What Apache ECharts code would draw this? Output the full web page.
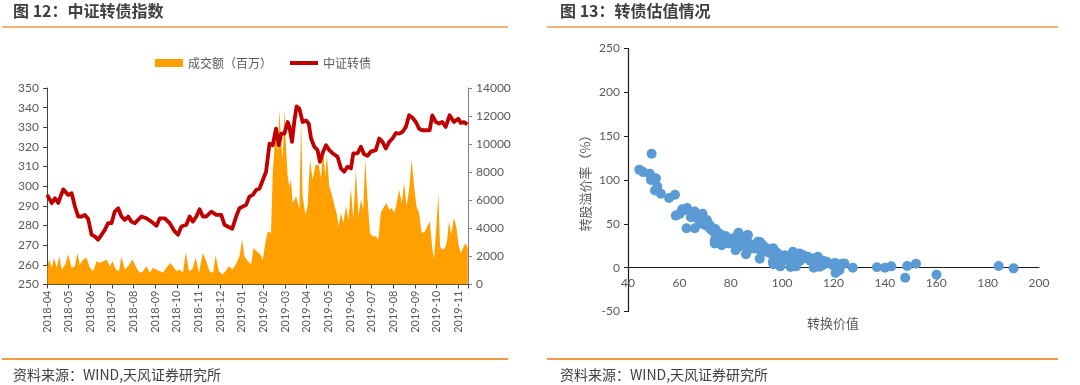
<!DOCTYPE html>
<html><head><meta charset="utf-8">
<script src="https://cdn.jsdelivr.net/npm/echarts@6/dist/echarts.min.js"></script>
<style>html,body{margin:0;padding:0;background:#fff}#c{width:1080px;height:385px}</style>
</head><body><div id="c"></div>
<script>
// ---- Figure 12 data ----
const monthLabels = ['2018-04','2018-05','2018-06','2018-07','2018-08','2018-09','2018-10','2018-11','2018-12','2019-01','2019-02','2019-03','2019-04','2019-05','2019-06','2019-07','2019-08','2019-09','2019-10','2019-11'];
// month offset since 2018-04-01
const indexMonths = [0.01,0.22,0.37,0.52,0.75,0.98,1.14,1.29,1.44,1.60,1.75,1.90,2.06,2.21,2.36,2.52,2.67,2.82,2.98,3.13,3.29,3.44,3.59,3.75,3.90,4.06,4.21,4.36,4.59,4.82,5.06,5.21,5.44,5.67,5.90,6.05,6.21,6.44,6.59,6.74,6.90,7.05,7.20,7.36,7.59,7.82,8.05,8.20,8.35,8.56,8.74,8.89,9.20,9.35,9.51,9.66,9.82,9.97,10.12,10.28,10.43,10.58,10.71,10.82,10.97,11.12,11.20,11.32,11.43,11.53,11.66,11.81,11.97,12.09,12.20,12.35,12.50,12.61,12.73,12.89,13.04,13.19,13.42,13.58,13.73,13.88,14.04,14.15,14.35,14.50,14.65,14.81,14.96,15.19,15.35,15.50,15.65,15.81,15.96,16.12,16.27,16.42,16.58,16.73,16.88,17.04,17.19,17.34,17.50,17.68,17.80,17.96,18.11,18.26,18.42,18.60,18.80,19.00,19.11,19.26,19.42];
const indexValues = [295.6,291.4,293.9,291.5,298.4,295.6,296.4,289.7,284.6,284.6,285.4,283.5,275.3,274.5,272.8,275.3,277.8,281.2,281.2,287.1,288.8,284.6,282.9,284.6,282.0,281.2,282.9,284.6,283.7,282.0,279.9,283.7,283.7,281.2,277.0,275.3,279.5,280.4,284.6,282.0,284.6,288.3,284.6,284.6,287.1,285.4,285.4,280.4,279.5,278.4,284.6,288.8,290.5,294.7,295.6,298.1,298.9,303.2,307.4,321.7,320.9,329.3,320.9,326.8,326.8,332.7,330.2,322.6,333.5,340.6,339.4,332.7,333.5,331.9,324.3,320.1,318.4,312.4,316.8,320.9,318.4,316.8,315.1,309.1,307.4,309.9,309.1,316.7,316.8,320.1,316.3,315.5,317.6,318.4,324.3,322.6,319.2,322.6,324.3,327.1,326.8,327.6,330.2,336.1,335.0,332.7,329.3,328.5,328.5,328.5,336.1,332.7,331.9,332.7,330.2,336.1,332.7,334.4,332.3,332.7,331.5];
const volumeMonths = [0.02,0.11,0.22,0.32,0.45,0.57,0.68,0.83,0.98,1.14,1.29,1.40,1.52,1.67,1.83,1.98,2.14,2.29,2.44,2.60,2.75,2.90,3.03,3.18,3.33,3.44,3.59,3.75,3.95,4.13,4.29,4.44,4.59,4.75,4.90,5.05,5.21,5.36,5.51,5.70,5.82,5.98,6.13,6.28,6.41,6.56,6.71,6.87,7.02,7.20,7.36,7.51,7.67,7.79,7.94,8.10,8.25,8.40,8.56,8.71,8.89,9.02,9.12,9.28,9.43,9.54,9.69,9.85,9.97,10.09,10.20,10.35,10.43,10.51,10.58,10.66,10.74,10.81,10.89,10.97,11.04,11.12,11.20,11.27,11.35,11.51,11.66,11.74,11.81,11.94,12.04,12.15,12.27,12.40,12.55,12.66,12.76,12.86,12.93,13.04,13.16,13.27,13.38,13.47,13.58,13.69,13.81,13.93,14.04,14.15,14.27,14.39,14.50,14.61,14.70,14.81,14.92,15.04,15.19,15.31,15.42,15.58,15.68,15.81,15.93,16.04,16.14,16.27,16.39,16.50,16.61,16.73,16.85,16.96,17.07,17.19,17.31,17.47,17.57,17.68,17.80,17.88,17.99,18.08,18.16,18.26,18.39,18.49,18.57,18.67,18.80,18.91,19.00,19.11,19.22,19.34,19.44];
const volumeValues = [1300,1780,1200,1900,1200,2000,1070,1400,2130,1200,1300,2250,1400,1780,1900,1200,950,1660,1540,1660,1780,1300,1660,1070,950,2000,1070,1300,1780,1200,830,950,1300,830,1200,1070,950,830,1200,1540,1300,950,1070,830,2300,950,1070,1900,830,2250,1660,950,830,2060,950,710,950,1300,1070,1400,2000,3200,2000,1660,1400,2600,2370,2130,1780,2960,3790,3670,7940,9830,10780,9480,12440,10310,8880,12560,9830,7700,6990,7460,5800,6280,5330,11730,6280,4970,5570,8880,7460,8530,8530,7580,9590,7700,9240,6990,6390,5680,5090,4140,5090,4380,5570,4620,6870,4620,8170,4850,6040,5330,8880,6040,3670,3430,3430,3200,5090,5570,5800,5330,5450,5090,5680,6750,5800,7220,5570,6750,8880,6990,5570,5090,3670,3790,4140,4500,2600,1780,4140,6520,2720,2480,2600,3200,4500,3550,4730,4140,2960,2250,2600,2960,2600];

// ---- Figure 13 data ----
const convValue = [44.4,45.9,49.2,48.5,48.9,50.9,50.5,51.4,52.8,56,58.3,58.6,60.2,61.1,62.5,62.8,64.5,66,66.9,66,68,69,69.9,70.6,71.8,72.5,73.8,74.4,73.8,75.7,77,78.3,79.3,80.9,81.6,82.8,83.2,84.8,85.4,86.7,86.7,88.7,90.6,91.3,92.5,93.9,95.4,96.4,97.5,96.4,98.8,99.7,101,102.3,104.2,105.5,103.6,106.8,108.1,110,112,112.6,113.9,114.6,115.8,117.4,119.7,121,122.3,123,124.3,127.5,136.9,140,142.5,147.9,148.7,152.1,160.1,184.3,190.1,83,86.3,91.3,96.6,104,108,114,120.5,123.5,73.8,76.5,81.9,85.9,91.3,96.6,99.3,103.3,105.4,112.3,120.8,67,68,70,71,72,74,75,76,78,79,80,82,83,84,85,87,88,89,90,92,93,94,95,97,98,99,100,101,103,105,106,107,109,111,118,116,63];
const premiumRate = [111.8,109,130,107,100,102,88,92.7,84.3,79.4,83.1,59.4,61.4,66.7,65.9,45,57.5,64,56.4,45,50.7,61.4,48.7,54.5,45,43,39.2,35.3,31.5,31.5,35.3,31.5,27.7,33.5,27.7,37.3,23.9,31.5,25.8,37.3,20.1,23.9,29.6,20.1,25.8,18.1,16.3,22,14.3,6.7,12.4,6.7,14.3,8.6,18.1,14.3,4.8,16.3,14.3,12.4,10.5,0.9,12.4,1,2.9,6.7,2.9,4.8,-2.9,2.9,4.8,0,0.5,0,1.5,-11.5,1.9,4.6,-8,1.9,-0.8,39.7,37,29.4,21.8,15.3,14,11.5,5.3,4.6,27.5,25.6,19.8,15.3,10.3,3.8,1.5,0.8,1.5,0,-6,60,55,50,52,48,44,40,38,36,33,30,30,28,27,30,28,26,22,24,22,20,22,19,18,17,14,10,9,12,10,12,8,11,8,5,8,68];

const FONT = 'Lato, "Noto Sans CJK SC", sans-serif';
const CJK = '"Noto Sans CJK SC", sans-serif';
const labelStyle = {fontSize: 12, color: '#595959', fontFamily: FONT};

const chart = echarts.init(document.getElementById('c'), null, {renderer: 'canvas'});
chart.setOption({
  animation: false,
  backgroundColor: '#fff',
  grid: [
    {left: 47, right: 612, top: 88, bottom: 100.5},
    {left: 628, right: 41, top: 48.5, bottom: 73.5}
  ],
  legend: [
    {data: [{name: '成交额（百万）', icon: 'rect', itemStyle: {color: '#FF9F00'}}], left: 150, top: 52, itemWidth: 28, itemHeight: 8, itemGap: 4,
     textStyle: {fontSize: 12, color: '#595959', fontFamily: CJK}},
    {data: [{name: '中证转债', icon: 'rect', itemStyle: {color: '#C00000'}}], left: 285, top: 52, itemWidth: 28, itemHeight: 4, itemGap: 4,
     textStyle: {fontSize: 12, color: '#595959', fontFamily: CJK}}
  ],
  xAxis: [
    {type: 'value', gridIndex: 0, min: 0, max: 19.45, interval: 1,
     axisLine: {lineStyle: {color: '#404040', width: 1}},
     axisTick: {length: 4, lineStyle: {color: '#404040'}},
     splitLine: {show: false},
     axisLabel: {rotate: 90, fontSize: 11, color: '#595959', fontFamily: FONT, margin: 6,
       formatter: v => (Number.isInteger(v) && monthLabels[v]) ? monthLabels[v] : ''}},
    {type: 'value', gridIndex: 1, min: 40, max: 200, interval: 20,
     position: 'bottom', offset: -43.8,
     axisLine: {onZero: false, lineStyle: {color: '#1a1a1a', width: 1.2}},
     axisTick: {show: false}, splitLine: {show: false},
     axisLabel: Object.assign({margin: 9}, labelStyle)}
  ],
  yAxis: [
    {type: 'value', gridIndex: 0, position: 'left', min: 250, max: 350, interval: 10,
     axisLine: {show: true, lineStyle: {color: '#404040'}},
     axisTick: {show: true, length: 4, lineStyle: {color: '#404040'}},
     splitLine: {show: false}, axisLabel: Object.assign({margin: 8}, labelStyle)},
    {type: 'value', gridIndex: 0, position: 'right', min: 0, max: 14000, interval: 2000,
     axisLine: {show: true, lineStyle: {color: '#7f7f7f'}},
     axisTick: {show: true, length: 4, lineStyle: {color: '#7f7f7f'}},
     splitLine: {show: false}, axisLabel: Object.assign({margin: 8, formatter: v => String(v)}, labelStyle)},
    {type: 'value', gridIndex: 1, min: -50, max: 250, interval: 50,
     axisLine: {show: true, lineStyle: {color: '#1a1a1a', width: 1.2}},
     axisTick: {show: true, length: 4, lineStyle: {color: '#1a1a1a'}},
     splitLine: {show: false}, axisLabel: Object.assign({margin: 8}, labelStyle),
     name: '转股溢价率（%）', nameLocation: 'middle', nameRotate: 90, nameGap: 36,
     nameTextStyle: {fontSize: 13, color: '#595959', fontFamily: CJK}}
  ],
  series: [
    {name: '成交额（百万）', type: 'line', xAxisIndex: 0, yAxisIndex: 1, symbol: 'none',
     data: volumeMonths.map((m, i) => [m, volumeValues[i]]),
     lineStyle: {width: 0}, itemStyle: {color: '#FF9F00'},
     areaStyle: {color: '#FF9F00', opacity: 1}, z: 2},
    {name: '中证转债', type: 'line', xAxisIndex: 0, yAxisIndex: 0, symbol: 'none',
     data: indexMonths.map((m, i) => [m, indexValues[i]]),
     lineStyle: {width: 3.8, color: '#C00000', join: 'round'}, itemStyle: {color: '#C00000'}, z: 3},
    {name: '转债估值', type: 'scatter', xAxisIndex: 1, yAxisIndex: 2, symbolSize: 10,
     data: convValue.map((x, i) => [x, premiumRate[i]]),
     itemStyle: {color: '#5B9BD5', opacity: 1}}
  ],
  graphic: [
    {type: 'text', left: 13, top: 3, style: {text: '图 12：中证转债指数', font: 'bold 16px "Noto Sans CJK SC"', fill: '#404040'}},
    {type: 'line', shape: {x1: 2, y1: 27, x2: 508, y2: 27}, style: {stroke: '#F2B27A', lineWidth: 2}},
    {type: 'line', shape: {x1: 2, y1: 359, x2: 508, y2: 359}, style: {stroke: '#F09A4A', lineWidth: 2}},
    {type: 'text', left: 13, top: 368, style: {text: '资料来源：WIND,天风证券研究所', font: '14px "Noto Sans CJK SC"', fill: '#404040'}},
    {type: 'text', left: 560, top: 3, style: {text: '图 13：转债估值情况', font: 'bold 16px "Noto Sans CJK SC"', fill: '#404040'}},
    {type: 'line', shape: {x1: 547, y1: 27, x2: 1058, y2: 27}, style: {stroke: '#F2B27A', lineWidth: 2}},
    {type: 'line', shape: {x1: 547, y1: 359, x2: 1058, y2: 359}, style: {stroke: '#F09A4A', lineWidth: 2}},
    {type: 'text', left: 560, top: 368, style: {text: '资料来源：WIND,天风证券研究所', font: '14px "Noto Sans CJK SC"', fill: '#404040'}},
    {type: 'text', x: 833, y: 323, style: {text: '转换价值', font: '13px "Noto Sans CJK SC"', fill: '#595959', align: 'center', verticalAlign: 'middle'}}
  ]
});
</script></body></html>
